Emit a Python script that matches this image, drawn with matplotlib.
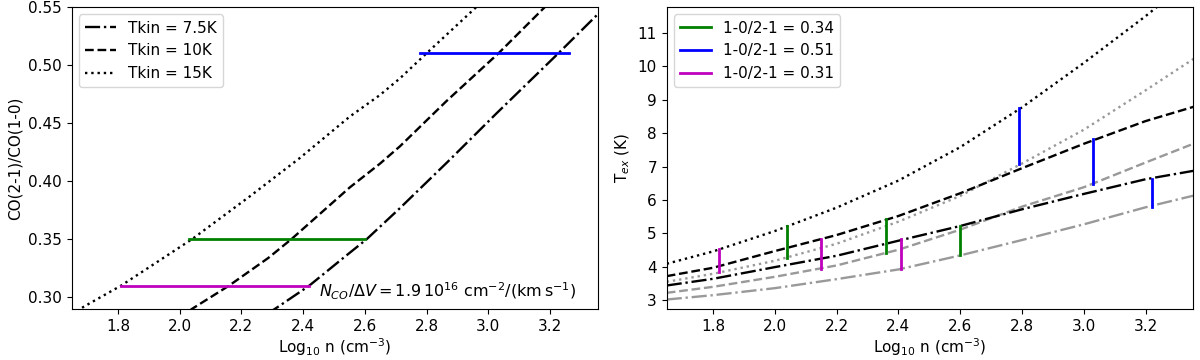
import matplotlib
matplotlib.use("Agg")
import matplotlib.pyplot as plt

# ---- left panel: line ratio vs density ----
logn_75 = [2.28, 2.32, 2.42, 2.53, 2.606, 2.714, 2.87, 3.027, 3.227, 3.352]
ratio_75 = [0.285, 0.292, 0.31, 0.3338, 0.35, 0.3768, 0.417, 0.4584, 0.51, 0.5429]
logn_10 = [2.00, 2.04, 2.16, 2.287, 2.362, 2.551, 2.649, 2.714, 2.865, 3.033, 3.184, 3.30]
ratio_10 = [0.282, 0.29, 0.31, 0.3338, 0.35, 0.3945, 0.415, 0.430, 0.469, 0.51, 0.55, 0.58]
logn_15 = [1.65, 1.69, 1.81, 2.04, 2.227, 2.389, 2.551, 2.649, 2.714, 2.80, 2.962, 3.10]
ratio_15 = [0.285, 0.292, 0.31, 0.35, 0.3868, 0.4198, 0.4555, 0.4741, 0.4885, 0.51, 0.55, 0.585]

obs_ratio = [0.35, 0.51, 0.31]
obs_xmin = [2.03, 2.78, 1.81]
obs_xmax = [2.60, 3.26, 2.42]
obs_colors = ["g", "b", "m"]
obs_labels = ["1-0/2-1 = 0.34", "1-0/2-1 = 0.51", "1-0/2-1 = 0.31"]

# ---- right panel: excitation temperatures ----
logn = [1.65, 1.8, 2.0, 2.2, 2.4, 2.6, 2.8, 3.0, 3.2, 3.36]
tex21_15 = [4.09, 4.46, 5.07, 5.77, 6.58, 7.58, 8.77, 10.1, 11.5, 12.7]
tex10_15 = [3.55, 3.79, 4.18, 4.69, 5.35, 6.12, 7.09, 8.1, 9.28, 10.25]
tex21_10 = [3.72, 3.97, 4.47, 4.95, 5.52, 6.2, 6.95, 7.68, 8.36, 8.8]
tex10_10 = [3.22, 3.40, 3.70, 4.04, 4.51, 5.11, 5.8, 6.38, 7.12, 7.7]
tex21_75 = [3.44, 3.64, 3.99, 4.33, 4.78, 5.22, 5.72, 6.18, 6.62, 6.88]
tex10_75 = [3.02, 3.15, 3.36, 3.63, 3.92, 4.34, 4.8, 5.27, 5.78, 6.14]

# vertical bars: x position, bottom, top (per ratio: green, blue, magenta)
bar_x = [[2.04, 2.36, 2.60], [2.79, 3.03, 3.22], [1.82, 2.15, 2.41]]
bar_lo = [[4.27, 4.42, 4.34], [7.08, 6.48, 5.79], [3.84, 3.94, 3.94]]
bar_hi = [[5.22, 5.42, 5.23], [8.74, 7.82, 6.63], [4.53, 4.83, 4.83]]

plt.rcParams["font.size"] = 11
fig = plt.figure(figsize=(12, 3.6), dpi=100)
ax1 = fig.add_axes([0.0597, 0.142, 0.4385, 0.839])
ax2 = fig.add_axes([0.5556, 0.142, 0.4389, 0.839])

lw = 1.7
ax1.plot(logn_75, ratio_75, "k-.", lw=lw, label="Tkin = 7.5K")
ax1.plot(logn_10, ratio_10, "k--", lw=lw, label="Tkin = 10K")
ax1.plot(logn_15, ratio_15, "k:", lw=lw, label="Tkin = 15K")
for r, x0, x1, c in zip(obs_ratio, obs_xmin, obs_xmax, obs_colors):
    ax1.plot([x0, x1], [r, r], color=c, lw=2)
ax1.text(2.45, 0.305, r"$N_{CO}/\Delta V = 1.9\,10^{16}\ \mathrm{cm^{-2}/(km\,s^{-1})}$",
         va="center", ha="left", fontsize=11.5)
ax1.set_xlim(1.65, 3.355)
ax1.set_ylim(0.29, 0.55)
ax1.set_yticks([0.30, 0.35, 0.40, 0.45, 0.50, 0.55])
ax1.set_xlabel(r"Log$_{10}$ n (cm$^{-3}$)", labelpad=2)
ax1.set_ylabel("CO(2-1)/CO(1-0)")
ax1.legend(loc="upper left")

grey = "0.6"
ax2.plot(logn, tex21_15, "k:", lw=lw)
ax2.plot(logn, tex10_15, ":", color=grey, lw=lw)
ax2.plot(logn, tex21_10, "k--", lw=lw)
ax2.plot(logn, tex10_10, "--", color=grey, lw=lw)
ax2.plot(logn, tex21_75, "k-.", lw=lw)
ax2.plot(logn, tex10_75, "-.", color=grey, lw=lw)
for xs, lo, hi, c, lab in zip(bar_x, bar_lo, bar_hi, obs_colors, obs_labels):
    for i in range(len(xs)):
        ax2.plot([xs[i], xs[i]], [lo[i], hi[i]], color=c, lw=2,
                 label=lab if i == 0 else None)
ax2.set_xlim(1.65, 3.355)
ax2.set_ylim(2.74, 11.78)
ax2.set_yticks(range(3, 12))
ax2.set_xlabel(r"Log$_{10}$ n (cm$^{-3}$)", labelpad=2)
ax2.set_ylabel(r"T$_{ex}$ (K)")
ax2.legend(loc="upper left")

fig.savefig("out.png")
